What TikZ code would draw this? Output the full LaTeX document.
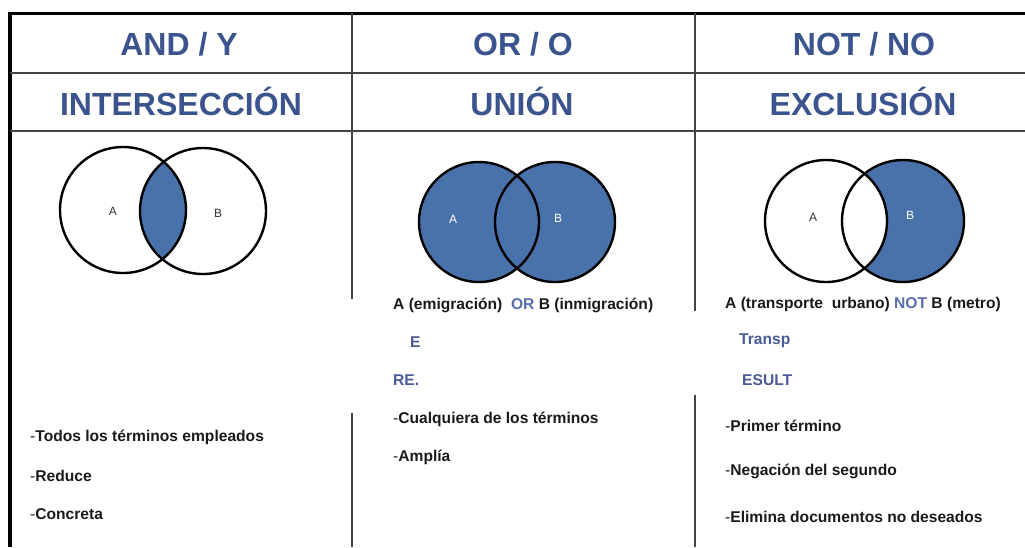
\documentclass[tikz,border=0pt]{standalone}
\usepackage{fontspec}
\setmainfont{Liberation Sans}
\definecolor{hdrblue}{HTML}{3C548E}
\definecolor{vennblue}{HTML}{4A72AA}
\definecolor{opblue}{HTML}{5A6EAE}
\definecolor{fragblue}{HTML}{4A5A98}
\definecolor{gridgray}{HTML}{444444}
\definecolor{txt}{HTML}{1A1A1A}
\begin{document}
\begin{tikzpicture}[x=1pt,y=-1pt,
  hdr/.style={font=\fontsize{32}{36}\selectfont\bfseries, text=hdrblue, inner sep=0pt},
  body/.style={font=\fontsize{15.6}{17}\selectfont\bfseries, text=txt, anchor=west, inner sep=0pt},
  frag/.style={body, text=fragblue},
  venn/.style={line width=2.4pt, draw=black},
  lbl/.style={font=\fontsize{12}{14}\selectfont, inner sep=0pt},
  thin/.style={line width=1.3pt, draw=gridgray}]
\useasboundingbox (0,0) rectangle (1025,547);
\fill[white] (0,0) rectangle (1025,547);
% frame
\draw[line width=3pt] (8.3,13) -- (1025,13);
\draw[line width=3.5pt] (10,11.5) -- (10,547);
\draw[thin] (10,73) -- (1025,73);
\draw[thin] (10,131) -- (1025,131);
\draw[thin] (352,13) -- (352,299);
\draw[thin] (352,413) -- (352,547);
\draw[thin] (695,13) -- (695,311);
\draw[thin] (695,395) -- (695,547);
% headers
\node[hdr] (h1) at (179,44) {AND / Y};
\node[hdr] (h2) at (523,44) {OR / O};
\node[hdr] (h3) at (864,44) {NOT / NO};
\node[hdr] (s1) at (181,101) {INTERSECCIÓN};
\node[hdr] (s2) at (522,101) {UNIÓN};
\node[hdr] (s3) at (863,101) {EXCLUSIÓN};
% Venn AND
\begin{scope}
  \clip (123,210) circle (63pt);
  \fill[vennblue] (203,211) circle (63pt);
\end{scope}
\draw[venn] (123,210) circle (63pt);
\draw[venn] (203,211) circle (63pt);
\node[lbl, text=black!80] (a1) at (113,211) {A};
\node[lbl, text=black!80] (b1) at (218,213) {B};
% Venn OR
\fill[vennblue] (479,222) circle (60pt);
\fill[vennblue] (555,222) circle (60pt);
\draw[venn] (479,222) circle (60pt);
\draw[venn] (555,222) circle (60pt);
\node[lbl, text=white] (a2) at (453,219) {A};
\node[lbl, text=white] (b2) at (558,218) {B};
% Venn NOT
\fill[vennblue] (903,221) circle (61pt);
\fill[white] (826,221) circle (61pt);
\draw[venn] (826,221) circle (61pt);
\draw[venn] (903,221) circle (61pt);
\node[lbl, text=black!80] (a3) at (813,217) {A};
\node[lbl, text=white] (b3) at (910,215) {B};
% left column text
\node[body] (t1) at (30,437) {{\mdseries -}Todos los términos empleados};
\node[body] (t2) at (30,476) {{\mdseries -}Reduce};
\node[body] (t3) at (30,514) {{\mdseries -}Concreta};
% middle column text
\node[body] (m0) at (393,305) {A (emigración)\ \ \textcolor{opblue}{OR} B (inmigración)};
\node[frag] (m1) at (410,342) {E};
\node[frag] (m2) at (393,380) {RE.};
\node[body] (m3) at (393,419) {{\mdseries -}Cualquiera de los términos};
\node[body] (m4) at (393,457) {{\mdseries -}Amplía};
% right column text
\node[body] (r0) at (725,304) {A (transporte\ \ urbano) \textcolor{opblue}{NOT} B (metro)};
\node[frag] (r1) at (739,341) {Transp};
\node[frag] (r2) at (742,380) {ESULT};
\node[body] (r3) at (725,426) {{\mdseries -}Primer término};
\node[body] (r4) at (725,471) {{\mdseries -}Negación del segundo};
\node[body] (r5) at (725,517) {{\mdseries -}Elimina documentos no deseados};
\end{tikzpicture}
\end{document}
